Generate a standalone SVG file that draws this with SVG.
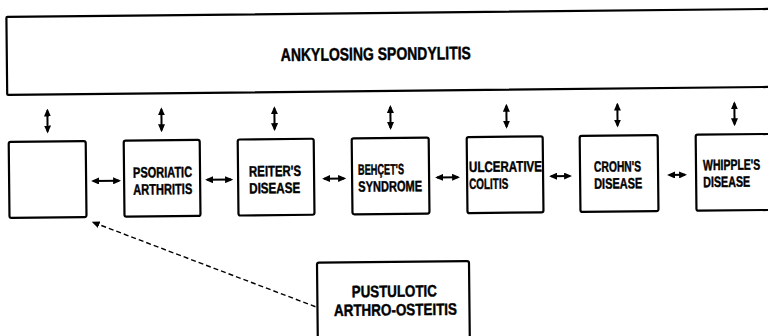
<svg xmlns="http://www.w3.org/2000/svg" width="768" height="336" viewBox="0 0 768 336">
<defs>
<style>
.box{fill:#fff;stroke:#000;stroke-width:2.2}
.t{font-family:"Liberation Sans",Arial,sans-serif;font-weight:bold;fill:#000;stroke:#000;stroke-width:0.45;font-size:15px}
.title{font-size:18px}
.bt{font-size:16.5px}
.arr{stroke:#000;stroke-width:2;fill:none}
.dash{stroke:#000;stroke-width:1.4;fill:none;stroke-dasharray:5 3}
</style>
<marker id="ah" viewBox="0 0 8 7" refX="6" refY="3.5" markerWidth="8" markerHeight="7" markerUnits="userSpaceOnUse" orient="auto-start-reverse">
<path d="M0,0 L8,3.5 L0,7 z" fill="#000"/>
</marker>
<marker id="ah2" viewBox="0 0 8 7" refX="6" refY="3.5" markerWidth="8" markerHeight="7" markerUnits="userSpaceOnUse" orient="auto">
<path d="M0,0 L8,3.5 L0,7 z" fill="#000"/>
</marker>
</defs>
<rect width="768" height="336" fill="#fff"/>
<g transform="rotate(-0.6 384 168)">
<g id="ankylosing">
<rect class="box" x="8" y="13" width="800" height="78" rx="1"/>
<text class="t title" x="282" y="60" textLength="190" lengthAdjust="spacingAndGlyphs">ANKYLOSING SPONDYLITIS</text>
</g>
<g id="empty">
<rect class="box" x="9" y="138" width="77" height="76" rx="2"/>
</g>
<g id="psoriatic">
<rect class="box" x="124" y="138" width="76" height="76" rx="2"/>
<text class="t" x="133" y="175" textLength="59" lengthAdjust="spacingAndGlyphs">PSORIATIC</text>
<text class="t" x="133" y="192" textLength="59" lengthAdjust="spacingAndGlyphs">ARTHRITIS</text>
</g>
<g id="reiter">
<rect class="box" x="238" y="138" width="76" height="76" rx="2"/>
<text class="t" x="249" y="175" textLength="52" lengthAdjust="spacingAndGlyphs">REITER'S</text>
<text class="t" x="249" y="192" textLength="51" lengthAdjust="spacingAndGlyphs">DISEASE</text>
</g>
<g id="behcet">
<rect class="box" x="352" y="138" width="77" height="76" rx="2"/>
<text class="t" x="358" y="174.5" textLength="46" lengthAdjust="spacingAndGlyphs">BEHÇET'S</text>
<text class="t" x="358" y="191.5" textLength="64" lengthAdjust="spacingAndGlyphs">SYNDROME</text>
</g>
<g id="ulcerative">
<rect class="box" x="467" y="138" width="76" height="76" rx="2"/>
<text class="t" x="469" y="173" textLength="73" lengthAdjust="spacingAndGlyphs">ULCERATIVE</text>
<text class="t" x="469" y="190" textLength="39" lengthAdjust="spacingAndGlyphs">COLITIS</text>
</g>
<g id="crohn">
<rect class="box" x="580" y="138" width="78" height="76" rx="2"/>
<text class="t" x="594" y="174" textLength="47" lengthAdjust="spacingAndGlyphs">CROHN'S</text>
<text class="t" x="594" y="191" textLength="48" lengthAdjust="spacingAndGlyphs">DISEASE</text>
</g>
<g id="whipple">
<rect class="box" x="696" y="138" width="78" height="76" rx="2"/>
<text class="t" transform="translate(703 173.5) scale(0.7 1)">WHIPPLE'S</text>
<text class="t" x="703" y="190.5" textLength="47" lengthAdjust="spacingAndGlyphs">DISEASE</text>
</g>
<g id="pustulotic">
<rect class="box" x="316" y="262" width="152" height="100" rx="2"/>
<text class="t bt" x="393" y="297" text-anchor="middle" textLength="85" lengthAdjust="spacingAndGlyphs">PUSTULOTIC</text>
<text class="t bt" x="394" y="315.5" text-anchor="middle" textLength="123" lengthAdjust="spacingAndGlyphs">ARTHRO-OSTEITIS</text>
</g>
<g id="connectors">
<line class="arr" x1="48" y1="107" x2="48" y2="128" marker-start="url(#ah)" marker-end="url(#ah)"/>
<line class="arr" x1="162" y1="107" x2="162" y2="128" marker-start="url(#ah)" marker-end="url(#ah)"/>
<line class="arr" x1="275" y1="107" x2="275" y2="128" marker-start="url(#ah)" marker-end="url(#ah)"/>
<line class="arr" x1="391" y1="107" x2="391" y2="128" marker-start="url(#ah)" marker-end="url(#ah)"/>
<line class="arr" x1="507" y1="107" x2="507" y2="128" marker-start="url(#ah)" marker-end="url(#ah)"/>
<line class="arr" x1="618" y1="107" x2="618" y2="128" marker-start="url(#ah)" marker-end="url(#ah)"/>
<line class="arr" x1="735" y1="107" x2="735" y2="128" marker-start="url(#ah)" marker-end="url(#ah)"/>
<line class="arr" x1="93" y1="178" x2="119" y2="178" marker-start="url(#ah)" marker-end="url(#ah)"/>
<line class="arr" x1="207" y1="178" x2="231" y2="178" marker-start="url(#ah)" marker-end="url(#ah)"/>
<line class="arr" x1="324" y1="178" x2="344" y2="178" marker-start="url(#ah)" marker-end="url(#ah)"/>
<line class="arr" x1="437" y1="178" x2="458" y2="178" marker-start="url(#ah)" marker-end="url(#ah)"/>
<line class="arr" x1="551" y1="178" x2="570" y2="178" marker-start="url(#ah)" marker-end="url(#ah)"/>
<line class="arr" x1="669" y1="178" x2="685" y2="178" marker-start="url(#ah)" marker-end="url(#ah)"/>
<line class="dash" x1="314" y1="306" x2="93" y2="219.5" marker-end="url(#ah2)"/>
</g>
</g>
</svg>
